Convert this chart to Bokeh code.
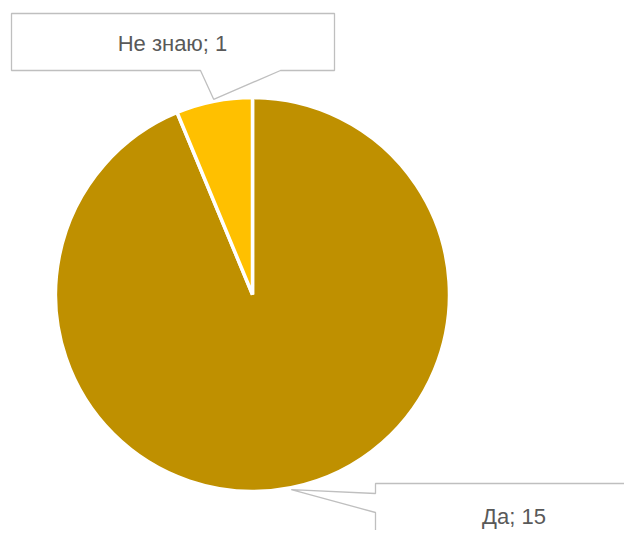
import math
from bokeh.plotting import figure
from bokeh.models import Range1d, ColumnDataSource
from bokeh.core.properties import value
from bokeh.embed import file_html
from bokeh.resources import INLINE

# ---- data ----
categories = ["Да", "Не знаю"]
counts = [15, 1]
colors = ["#BF9000", "#FFC000"]
labels = [f"{c}; {v}" for c, v in zip(categories, counts)]

# ---- layout ----
W, H = 624, 530


def s(x, y):
    """picture coords (origin top-left) -> data coords"""
    return (x, H - y)


p = figure(width=W, height=H, x_range=Range1d(0, W), y_range=Range1d(0, H),
           output_backend="svg", toolbar_location=None, min_border=0)
p.axis.visible = False
p.grid.visible = False
p.outline_line_color = None
p.background_fill_color = "white"
p.border_fill_color = "white"

cx, cy = s(252, 294)
R = 197
total = sum(counts)
a = math.pi / 2
starts, ends, mids = [], [], []
for v in counts:
    sweep = 2 * math.pi * v / total
    starts.append(a)
    ends.append(a - sweep)
    mids.append(a - sweep / 2)
    a -= sweep

src = ColumnDataSource(dict(x=[cx] * len(counts), y=[cy] * len(counts),
                            start=starts, end=ends, color=colors))
p.wedge(x="x", y="y", radius=R, start_angle="start", end_angle="end",
        direction="clock", fill_color="color", line_color="white",
        line_width=3.5, source=src)

# callout tips at slice mid-angles
tips = [(cx + (R + 2) * math.cos(m), cy + (R + 2) * math.sin(m)) for m in mids]

# callout for "Да" (index 0): box with pointer on left side
x0, y0 = s(375, 483)
x1, y1 = s(660, 560)
_, pa = s(0, 493)
_, pb = s(0, 512)
tx, ty = tips[0]
da_x = [x0, x1, x1, x0, x0, tx, x0]
da_y = [y0, y0, y1, y1, pb, ty, pa]

# callout for "Не знаю" (index 1): box with pointer on bottom side
bx0, by0 = s(11, 13)
bx1, by1 = s(334, 70)
qa, _ = s(200, 0)
qb, _ = s(280, 0)
tx2, ty2 = tips[1]
nz_x = [bx0, bx1, bx1, qb, tx2, qa, bx0]
nz_y = [by0, by0, by1, by1, ty2, by1, by1]

p.patches(xs=[da_x, nz_x], ys=[da_y, nz_y], fill_color="white",
          line_color="#BFBFBF", line_width=1.3)

lx, ly = zip(s(513.5, 515.5), s(172, 42.5))
p.text(x=list(lx), y=list(ly), text=labels, text_align="center",
       text_baseline="middle", text_color="#595959",
       text_font=value("Liberation Sans"), text_font_size="22px")

open("out.html", "w").write(file_html(p, INLINE))
